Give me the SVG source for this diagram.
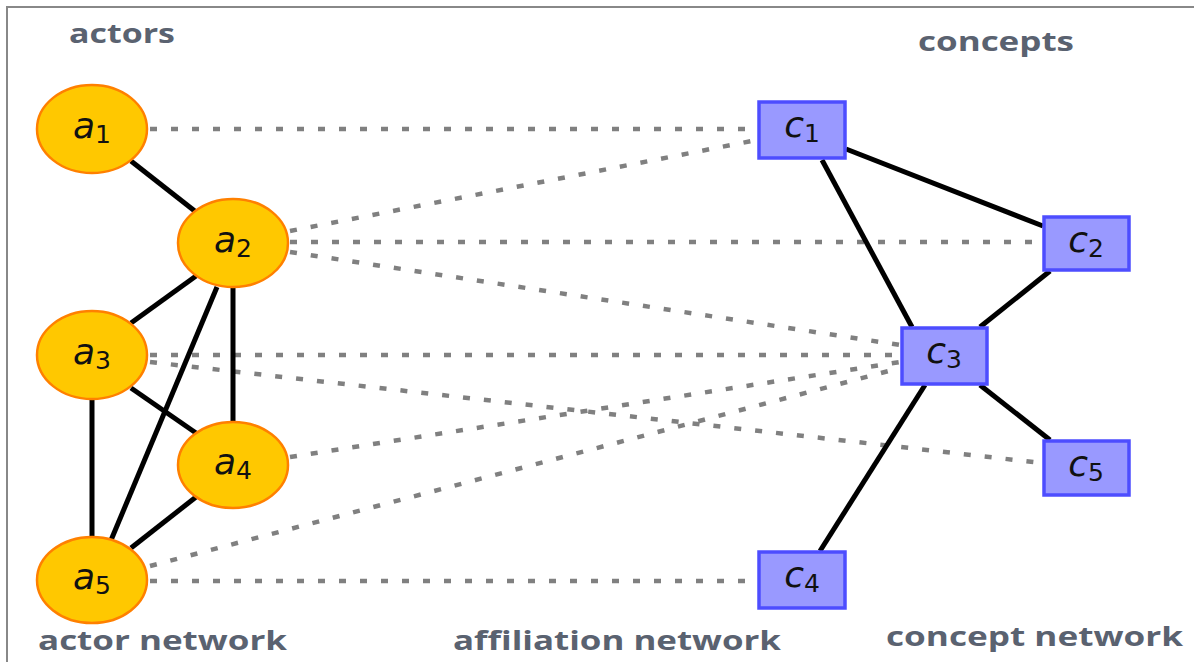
<svg xmlns="http://www.w3.org/2000/svg" width="1194" height="662" viewBox="0 0 1194 662">
<style>
.actor{fill:#FFC800;stroke:#FF8000;stroke-width:2.5}
.concept{fill:#9999FF;stroke:#4D4DFF;stroke-width:3.5}
.lbl{font-family:"DejaVu Sans",sans-serif;font-size:36px;fill:#111}
.lbl .v{font-style:italic}
.lbl .s{font-size:25px}
.solid{stroke:#000;stroke-width:5;fill:none}
.dot{stroke:#808080;stroke-width:4.5;stroke-dasharray:7 14;fill:none}
.cap{font-family:"Open Sans",sans-serif;font-weight:bold;font-size:27px;fill:#5A6270}
</style>
<rect x="0" y="0" width="1194" height="662" fill="#fff"/>
<path d="M7,662 V7 H1194" stroke="#888" stroke-width="2" fill="none"/>
<g id="connectors">
<line class="dot" x1="150" y1="129" x2="757" y2="129"/>
<line class="dot" x1="290" y1="231" x2="757" y2="140"/>
<line class="dot" x1="290" y1="242" x2="1042" y2="242"/>
<line class="dot" x1="290" y1="252" x2="900" y2="345"/>
<line class="dot" x1="150" y1="355" x2="900" y2="355"/>
<line class="dot" x1="150" y1="362" x2="1042" y2="463"/>
<line class="dot" x1="290" y1="457" x2="900" y2="362"/>
<line class="dot" x1="150" y1="566" x2="900" y2="368"/>
<line class="dot" x1="150" y1="581" x2="757" y2="581"/>
<line class="solid" x1="131" y1="161" x2="196" y2="212"/>
<line class="solid" x1="196" y1="276" x2="131" y2="323"/>
<line class="solid" x1="217" y1="287" x2="109" y2="545"/>
<line class="solid" x1="233" y1="287" x2="233" y2="423"/>
<line class="solid" x1="131" y1="388" x2="196" y2="433"/>
<line class="solid" x1="92" y1="399" x2="92" y2="537"/>
<line class="solid" x1="196" y1="497" x2="131" y2="548"/>
<line class="solid" x1="846" y1="149" x2="1043" y2="226"/>
<line class="solid" x1="822" y1="160" x2="912" y2="327"/>
<line class="solid" x1="1050" y1="271" x2="980" y2="327"/>
<line class="solid" x1="925" y1="385" x2="820" y2="551"/>
<line class="solid" x1="980" y1="385" x2="1050" y2="440"/>
</g>
<g id="a1"><ellipse class="actor" cx="92" cy="129" rx="55" ry="44"/><text class="lbl" x="92" y="138" text-anchor="middle"><tspan class="v">a</tspan><tspan class="s" dy="5">1</tspan></text></g>
<g id="a2"><ellipse class="actor" cx="233" cy="243" rx="55" ry="44"/><text class="lbl" x="233" y="252" text-anchor="middle"><tspan class="v">a</tspan><tspan class="s" dy="5">2</tspan></text></g>
<g id="a3"><ellipse class="actor" cx="92" cy="355" rx="55" ry="44"/><text class="lbl" x="92" y="364" text-anchor="middle"><tspan class="v">a</tspan><tspan class="s" dy="5">3</tspan></text></g>
<g id="a4"><ellipse class="actor" cx="233" cy="465" rx="55" ry="43"/><text class="lbl" x="233" y="474" text-anchor="middle"><tspan class="v">a</tspan><tspan class="s" dy="5">4</tspan></text></g>
<g id="a5"><ellipse class="actor" cx="92" cy="580" rx="55" ry="43"/><text class="lbl" x="92" y="589" text-anchor="middle"><tspan class="v">a</tspan><tspan class="s" dy="5">5</tspan></text></g>
<g id="c1"><rect class="concept" x="759" y="102" width="86" height="56"/><text class="lbl" x="802" y="137" text-anchor="middle"><tspan class="v">c</tspan><tspan class="s" dy="5">1</tspan></text></g>
<g id="c2"><rect class="concept" x="1044" y="217" width="85" height="53"/><text class="lbl" x="1086" y="252" text-anchor="middle"><tspan class="v">c</tspan><tspan class="s" dy="5">2</tspan></text></g>
<g id="c3"><rect class="concept" x="902" y="328" width="85" height="56"/><text class="lbl" x="944" y="363" text-anchor="middle"><tspan class="v">c</tspan><tspan class="s" dy="5">3</tspan></text></g>
<g id="c5"><rect class="concept" x="1044" y="441" width="85" height="54"/><text class="lbl" x="1086" y="476" text-anchor="middle"><tspan class="v">c</tspan><tspan class="s" dy="5">5</tspan></text></g>
<g id="c4"><rect class="concept" x="759" y="552" width="86" height="56"/><text class="lbl" x="802" y="587" text-anchor="middle"><tspan class="v">c</tspan><tspan class="s" dy="5">4</tspan></text></g>
<text class="cap" x="69" y="43" textLength="106" lengthAdjust="spacingAndGlyphs">actors</text>
<text class="cap" x="918" y="51" textLength="156" lengthAdjust="spacingAndGlyphs">concepts</text>
<text class="cap" x="38" y="650" textLength="249" lengthAdjust="spacingAndGlyphs">actor network</text>
<text class="cap" x="453" y="650" textLength="328" lengthAdjust="spacingAndGlyphs">affiliation network</text>
<text class="cap" x="886" y="646" textLength="297" lengthAdjust="spacingAndGlyphs">concept network</text>
</svg>
